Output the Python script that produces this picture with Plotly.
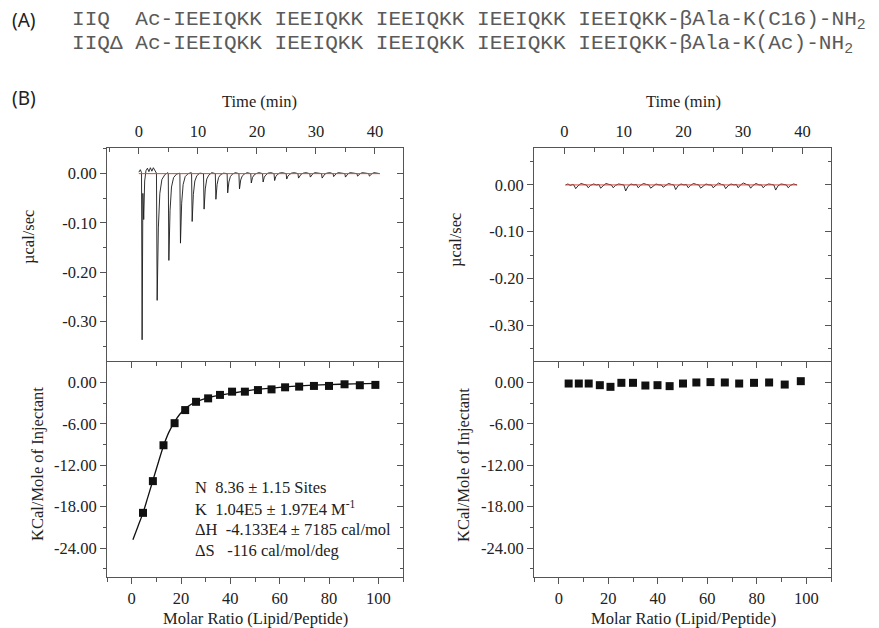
import plotly.graph_objects as go

# The page body has an 8px margin, so the figure is offset by 8px.
OFF = 8
W, H = 879 - OFF, 628 - OFF

# ---------------- (A) sequences ----------------
seq_labels = ["IIQ", "IIQΔ"]
seq_texts = ["Ac-IEEIQKK IEEIQKK IEEIQKK IEEIQKK IEEIQKK-βAla-K(C16)-NH<sub>2</sub>",
             "Ac-IEEIQKK IEEIQKK IEEIQKK IEEIQKK IEEIQKK-βAla-K(Ac)-NH<sub>2</sub>"]

# ---------------- IIQ raw thermogram (time, µcal/sec) ----------------
raw_iiq_time = [
    0.00, 0.25, 0.45, 0.55, 0.68, 0.82, 0.98, 1.20, 1.45, 1.70, 1.95, 2.20, 2.45, 2.70,
    2.98, 3.10, 3.30, 3.55, 3.90, 4.40, 4.90,
    4.98, 5.08, 5.28, 5.53, 5.88, 6.38, 6.90,
    6.95, 7.05, 7.25, 7.50, 7.85, 8.35, 8.88,
    8.93, 9.03, 9.23, 9.48, 9.83, 10.33, 10.90,
    10.95, 11.05, 11.25, 11.50, 11.85, 12.35, 12.90,
    12.95, 13.05, 13.25, 13.50, 13.85, 14.35, 14.90,
    14.95, 15.05, 15.25, 15.50, 15.85, 16.35, 16.90,
    16.95, 17.05, 17.25, 17.50, 17.85, 18.35, 18.90,
    18.95, 19.05, 19.25, 19.50, 19.85, 20.35, 20.90,
    20.95, 21.05, 21.25, 21.50, 21.85, 22.35, 22.85,
    22.90, 23.00, 23.20, 23.45, 23.80, 24.30, 24.90,
    24.95, 25.05, 25.25, 25.50, 25.85, 26.35, 26.90,
    26.95, 27.05, 27.25, 27.50, 27.85, 28.35, 28.90,
    28.95, 29.05, 29.25, 29.50, 29.85, 30.35, 30.90,
    30.95, 31.05, 31.25, 31.50, 31.85, 32.35, 32.85,
    32.90, 33.00, 33.20, 33.45, 33.80, 34.30, 34.85,
    34.90, 35.00, 35.20, 35.45, 35.80, 36.30, 36.90,
    36.95, 37.05, 37.25, 37.50, 37.85, 38.35, 38.90,
    38.95, 39.05, 39.25, 39.50, 39.85, 40.35, 40.80]
raw_iiq_ucal = [
    0.003, 0.008, 0.002, -0.337, -0.040, -0.093, -0.015, 0.006, 0.011, 0.004, 0.012, 0.005, 0.012, 0.006,
    0.001, -0.257, -0.110, -0.040, -0.012, -0.002, 0.002,
    0.000, -0.176, -0.075, -0.027, -0.008, -0.001, 0.001,
    0.000, -0.141, -0.060, -0.022, -0.006, 0.000, 0.002,
    0.000, -0.097, -0.042, -0.015, -0.004, 0.001, 0.000,
    0.000, -0.072, -0.031, -0.011, -0.003, 0.002, 0.000,
    0.000, -0.052, -0.022, -0.008, -0.002, 0.001, 0.000,
    0.000, -0.039, -0.017, -0.006, -0.001, 0.002, 0.000,
    0.000, -0.031, -0.013, -0.005, -0.001, 0.002, 0.000,
    0.000, -0.019, -0.008, -0.003, 0.000, 0.002, 0.000,
    0.000, -0.017, -0.007, -0.003, 0.001, 0.002, 0.000,
    0.000, -0.014, -0.006, -0.002, 0.001, 0.002, 0.000,
    0.000, -0.011, -0.005, -0.002, 0.001, 0.002, 0.000,
    0.000, -0.009, -0.004, -0.001, 0.001, 0.002, 0.000,
    0.000, -0.007, -0.003, 0.000, 0.002, 0.001, 0.000,
    0.000, -0.009, -0.004, -0.001, 0.001, 0.002, 0.000,
    0.000, -0.006, -0.003, 0.000, 0.002, 0.001, 0.000,
    0.000, -0.007, -0.003, 0.000, 0.002, 0.001, 0.000,
    0.000, -0.005, -0.002, 0.000, 0.002, 0.001, 0.000,
    0.000, -0.005, -0.002, 0.000, 0.002, 0.001, 0.000]
base_iiq_time = [0.0, 40.8]
base_iiq_ucal = [0.0, 0.0]

# ---------------- IIQΔ raw thermogram ----------------
raw_iiqd_time = [
    0.2, 0.6, 1.0, 1.4,
    1.6, 1.9, 2.3, 2.8, 3.3,
    3.7, 4.0, 4.4, 4.9, 5.4,
    5.8, 6.1, 6.5, 7.0, 7.5,
    7.9, 8.2, 8.6, 9.1, 9.6,
    10.0, 10.3, 10.7, 11.2, 11.7,
    12.1, 12.4, 12.8, 13.3, 13.8,
    14.2, 14.5, 14.9, 15.4, 15.9,
    16.3, 16.6, 17.0, 17.5, 18.0,
    18.4, 18.7, 19.1, 19.6, 20.1,
    20.5, 20.8, 21.2, 21.7, 22.2,
    22.6, 22.9, 23.3, 23.8, 24.3,
    24.7, 25.0, 25.4, 25.9, 26.4,
    26.8, 27.1, 27.5, 28.0, 28.5,
    28.9, 29.2, 29.6, 30.1, 30.6,
    31.0, 31.3, 31.7, 32.2, 32.7,
    33.1, 33.4, 33.8, 34.3, 34.8,
    35.2, 35.5, 35.9, 36.4, 36.9,
    37.3, 37.6, 38.0, 38.5, 39.1]
raw_iiqd_ucal = [
    0.000, 0.002, -0.001, 0.001,
    0.000, -0.008, -0.002, 0.003, 0.001,
    0.000, -0.006, -0.001, 0.002, 0.000,
    0.001, -0.007, -0.002, 0.003, 0.001,
    0.000, -0.006, -0.001, 0.002, 0.001,
    0.000, -0.013, -0.003, 0.002, 0.000,
    0.001, -0.006, -0.001, 0.003, 0.001,
    0.000, -0.007, -0.002, 0.002, 0.000,
    0.000, -0.005, -0.001, 0.003, 0.001,
    0.000, -0.010, -0.002, 0.002, 0.000,
    0.001, -0.006, -0.001, 0.003, 0.001,
    0.000, -0.007, -0.002, 0.002, 0.000,
    0.000, -0.006, -0.001, 0.004, 0.001,
    0.000, -0.008, -0.002, 0.002, 0.000,
    0.001, -0.006, 0.000, 0.004, 0.001,
    0.000, -0.007, -0.001, 0.003, 0.000,
    0.000, -0.006, -0.001, 0.002, 0.001,
    0.000, -0.011, -0.002, 0.002, 0.001,
    0.000, -0.006, -0.001, 0.002, 0.000]
base_iiqd_time = [0.2, 39.1]
base_iiqd_ucal = [0.0, 0.0]

# ---------------- integrated heats ----------------
molar_iiq = [4.6, 8.6, 12.9, 17.4, 21.7, 26.1, 31.0, 35.8, 40.7, 45.9, 51.2, 56.7,
             62.2, 67.9, 73.9, 80.0, 86.3, 92.5, 98.8]
heat_iiq = [-18.9, -14.3, -9.1, -5.9, -4.0, -2.8, -2.3, -1.8, -1.33, -1.33, -1.1, -1.0,
            -0.7, -0.6, -0.5, -0.5, -0.26, -0.4, -0.35]
fit_molar = [0.5, 2.5, 4.6, 6.5, 8.6, 10.8, 12.9, 15.1, 17.4, 19.5, 21.7, 24.0, 26.1,
             30.0, 35.0, 40.0, 50.0, 60.0, 70.0, 80.0, 90.0, 100.0]
fit_heat = [-22.8, -20.9, -18.9, -16.7, -14.2, -11.6, -9.2, -7.2, -5.7, -4.6, -3.8, -3.2, -2.8,
            -2.3, -1.9, -1.6, -1.05, -0.7, -0.45, -0.3, -0.2, -0.12]
molar_iiqd = [4.0, 8.1, 12.1, 16.6, 20.9, 25.3, 30.0, 35.0, 39.9, 44.8, 50.2, 55.6,
              61.3, 67.1, 72.9, 78.9, 85.0, 91.3, 97.8]
heat_iiqd = [-0.15, -0.15, -0.15, -0.39, -0.63, -0.05, -0.05, -0.44, -0.39, -0.53, -0.15, 0.0,
             0.05, 0.0, -0.15, -0.05, 0.0, -0.3, 0.19]

fit_params = ["N\u00a0\u00a08.36 ± 1.15 Sites",
              "K\u00a0\u00a01.04E5 ± 1.97E4 M<sup>-1</sup>",
              "ΔH\u00a0\u00a0-4.133E4 ± 7185 cal/mol",
              "ΔS\u00a0\u00a0\u00a0-116 cal/mol/deg"]

# tick labels
time_ticks = [0, 10, 20, 30, 40]
ucal_ticks = [0.0, -0.1, -0.2, -0.3]
ucal_labels = ["0.00", "-0.10", "-0.20", "-0.30"]
heat_ticks = [0, -6, -12, -18, -24]
heat_labels = ["0.00", "-6.00", "-12.00", "-18.00", "-24.00"]
molar_ticks = [0, 20, 40, 60, 80, 100]

# ---------------- layout geometry (page pixels -> paper) ----------------
def fx(p):
    return (p - OFF) / W

def fy(p):
    return 1 - (p - OFF) / H

colL = [fx(107), fx(403)]
colR = [fx(534), fx(831)]
rowT = [fy(362), fy(148)]
rowB = [fy(577), fy(362)]

LC = "#555555"
SERIF = "Liberation Serif"
TF = dict(family=SERIF, size=16.5, color="#222222")

def ax(**kw):
    d = dict(showline=True, linecolor=LC, linewidth=1, showgrid=False, zeroline=False,
             tickcolor=LC, tickwidth=1, ticklen=6, tickfont=TF, fixedrange=True)
    d.update(kw)
    return d

def minor(dt, inside):
    return dict(dtick=dt, tick0=0, ticks="inside" if inside else "outside",
                ticklen=3.5, tickcolor=LC, tickwidth=1, showgrid=False)

fig = go.Figure()

LINE = dict(color="#1a1a1a", width=0.9)
RED = dict(color="#d24a43", width=1)
SQ = dict(symbol="square", size=8, color="#111", line=dict(width=0))

# Left column
fig.add_trace(go.Scatter(x=raw_iiq_time, y=raw_iiq_ucal, mode="lines", line=LINE,
                         xaxis="x", yaxis="y", showlegend=False))
fig.add_trace(go.Scatter(x=base_iiq_time, y=base_iiq_ucal, mode="lines", line=RED,
                         xaxis="x", yaxis="y", showlegend=False))
fig.add_trace(go.Scatter(x=fit_molar, y=fit_heat, mode="lines",
                         line=dict(color="#111", width=1.3, shape="spline"),
                         xaxis="x2", yaxis="y3", showlegend=False))
fig.add_trace(go.Scatter(x=molar_iiq, y=heat_iiq, mode="markers", marker=SQ,
                         xaxis="x2", yaxis="y3", showlegend=False))
# Right column
fig.add_trace(go.Scatter(x=raw_iiqd_time, y=raw_iiqd_ucal, mode="lines", line=LINE,
                         xaxis="x4", yaxis="y5", showlegend=False))
fig.add_trace(go.Scatter(x=base_iiqd_time, y=base_iiqd_ucal, mode="lines", line=RED,
                         xaxis="x4", yaxis="y5", showlegend=False))
fig.add_trace(go.Scatter(x=molar_iiqd, y=heat_iiqd, mode="markers", marker=SQ,
                         xaxis="x5", yaxis="y7", showlegend=False))
# empty traces so the mirrored frame axes (right / top sides) get drawn
for xa, ya in (("x", "y2"), ("x3", "y4"), ("x4", "y6"), ("x6", "y8")):
    fig.add_trace(go.Scatter(x=[], y=[], mode="lines", xaxis=xa, yaxis=ya,
                             showlegend=False, hoverinfo="skip"))

rngTL = [-0.382, 0.052]
rngTR = [-0.379, 0.079]
rngH = [-28.2, 2.97]
rngM = [-10, 110]

layout = dict(
    width=W, height=H, autosize=False,
    margin=dict(l=0, r=0, t=0, b=0),
    paper_bgcolor="white", plot_bgcolor="white",
    showlegend=False,
    # ---- left top
    xaxis=ax(domain=colL, anchor="y", side="top", range=[-5.4, 44.75], tickmode="array",
             tickvals=time_ticks, ticks="inside", minor=minor(5, True), ticklabelstandoff=3),
    yaxis=ax(domain=rowT, anchor="x", range=rngTL, tickmode="array", tickvals=ucal_ticks,
             ticktext=ucal_labels, ticks="outside", minor=minor(0.05, False)),
    yaxis2=ax(overlaying="y", anchor="x", side="right", range=rngTL, tickmode="array",
              tickvals=ucal_ticks, ticks="inside", showticklabels=False, minor=minor(0.05, True)),
    # ---- left bottom
    xaxis2=ax(domain=colL, anchor="y3", range=rngM, tickmode="array", tickvals=molar_ticks,
              ticks="outside", minor=minor(10, False)),
    xaxis3=ax(overlaying="x2", anchor="y3", side="top", range=rngM, tickmode="array",
              tickvals=molar_ticks, ticks="inside", showticklabels=False, minor=minor(10, True)),
    yaxis3=ax(domain=rowB, anchor="x2", range=rngH, tickmode="array", tickvals=heat_ticks,
              ticktext=heat_labels, ticks="outside", minor=minor(3, False)),
    yaxis4=ax(overlaying="y3", anchor="x2", side="right", range=rngH, tickmode="array",
              tickvals=heat_ticks, ticks="inside", showticklabels=False, minor=minor(3, True)),
    # ---- right top
    xaxis4=ax(domain=colR, anchor="y5", side="top", range=[-5.1, 44.8], tickmode="array",
              tickvals=time_ticks, ticks="inside", minor=minor(5, True), ticklabelstandoff=3),
    yaxis5=ax(domain=rowT, anchor="x4", range=rngTR, tickmode="array", tickvals=ucal_ticks,
              ticktext=ucal_labels, ticks="outside", minor=minor(0.05, False)),
    yaxis6=ax(overlaying="y5", anchor="x4", side="right", range=rngTR, tickmode="array",
              tickvals=ucal_ticks, ticks="inside", showticklabels=False, minor=minor(0.05, True)),
    # ---- right bottom
    xaxis5=ax(domain=colR, anchor="y7", range=rngM, tickmode="array", tickvals=molar_ticks,
              ticks="outside", minor=minor(10, False)),
    xaxis6=ax(overlaying="x5", anchor="y7", side="top", range=rngM, tickmode="array",
              tickvals=molar_ticks, ticks="inside", showticklabels=False, minor=minor(10, True)),
    yaxis7=ax(domain=rowB, anchor="x5", range=rngH, tickmode="array", tickvals=heat_ticks,
              ticktext=heat_labels, ticks="outside", minor=minor(3, False)),
    yaxis8=ax(overlaying="y7", anchor="x5", side="right", range=rngH, tickmode="array",
              tickvals=heat_ticks, ticks="inside", showticklabels=False, minor=minor(3, True)),
)
fig.update_layout(**layout)

ann = []

def note(text, x, y, size=16.5, family=SERIF, color="#222222", xanchor="center", angle=0):
    ann.append(dict(text=text, x=fx(x), y=fy(y), xref="paper", yref="paper", showarrow=False,
                    xanchor=xanchor, yanchor="middle", textangle=angle,
                    font=dict(family=family, size=size, color=color)))

# Panel labels and sequences
note("(A)", 24, 20, size=19, family="Noto Sans", color="#222")
note("(B)", 24, 98, size=19, family="Noto Sans", color="#222")
for i, (lab, txt) in enumerate(zip(seq_labels, seq_texts)):
    pad = "\u00a0" * (5 - len(lab))
    note(lab + pad + txt, 70, 20 + 24 * i, size=21.1, family="Liberation Mono", color="#5a5a5a",
         xanchor="left")

# Axis titles
for cx in (259, 683):
    note("Time (min)", cx, 101)
for cx in (255, 683):
    note("Molar Ratio (Lipid/Peptide)", cx, 618)
note("µcal/sec", 28, 237, angle=-90)
note("µcal/sec", 455, 240, angle=-90)
note("KCal/Mole of Injectant", 37, 464, angle=-90)
note("KCal/Mole of Injectant", 463, 465, angle=-90)

# Fit parameters
for i, t in enumerate(fit_params):
    note(t, 193, 487 + 21.3 * i, size=16.5, xanchor="left")

fig.update_layout(annotations=ann)
fig.write_html("out.html")
